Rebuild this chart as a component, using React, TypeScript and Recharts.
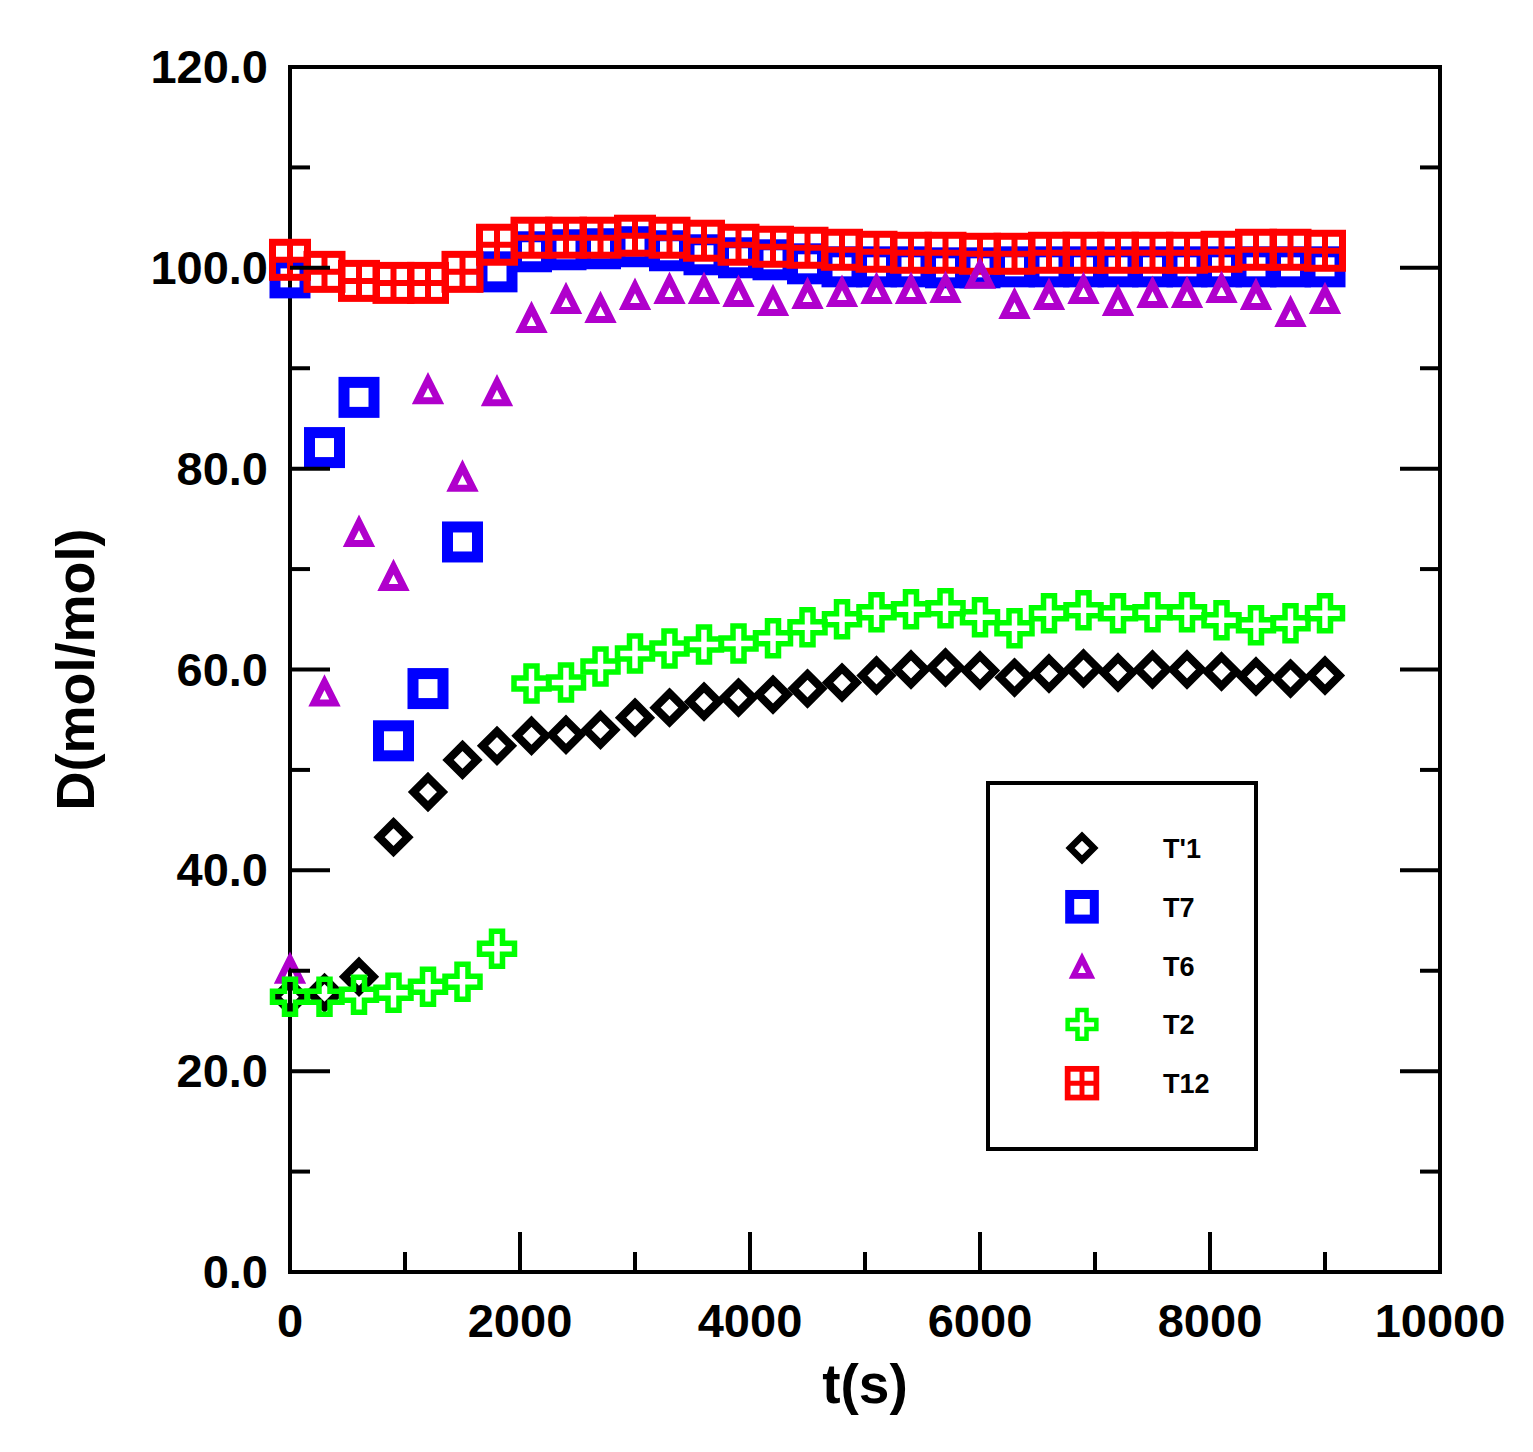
import { Legend, Scatter, ScatterChart, XAxis, YAxis } from "recharts";

const FONT = "'Liberation Sans', Arial, sans-serif";

// sample times (s)
const times = [
  0, 300, 600, 900, 1200, 1500, 1800, 2100, 2400, 2700, 3000, 3300, 3600, 3900, 4200, 4500,
  4800, 5100, 5400, 5700, 6000, 6300, 6600, 6900, 7200, 7500, 7800, 8100, 8400, 8700, 9000,
];

// D (mol/mol) per series
const t1Values = [
  27.4, 27.8, 29.4, 43.3, 47.8, 51.0, 52.4, 53.4, 53.5, 54.0, 55.2, 56.2, 56.8, 57.2, 57.5, 58.1,
  58.7, 59.4, 60.0, 60.2, 59.9, 59.2, 59.6, 60.1, 59.7, 60.0, 60.0, 59.8, 59.3, 59.1, 59.4,
];
const t7Values = [
  99.0, 82.1, 87.1, 52.9, 58.1, 72.7, 99.6, 101.6, 101.8, 101.9, 102.1, 101.7, 101.3, 101.0, 100.8,
  100.4, 100.1, 100.1, 100.1, 100.0, 100.0, 100.1, 100.1, 100.1, 100.1, 100.1, 100.1, 100.1, 100.1,
  100.1, 100.1,
];
const t6Values = [
  30.3, 57.9, 73.8, 69.4, 88.0, 79.3, 87.8, 95.1, 97.0, 96.1, 97.4, 98.0, 98.0, 97.7, 96.8, 97.5,
  97.7, 98.0, 98.0, 98.1, 99.5, 96.5, 97.4, 98.0, 96.8, 97.6, 97.6, 98.1, 97.4, 95.7, 97.0,
];
const t2Values = [
  27.4, 27.4, 27.6, 27.8, 28.4, 28.9, 32.2, 58.6, 58.7, 60.3, 61.6, 62.1, 62.5, 62.6, 63.1, 64.2,
  65.0, 65.7, 66.0, 66.1, 65.2, 64.1, 65.6, 65.9, 65.6, 65.7, 65.7, 64.9, 64.4, 64.6, 65.6,
];
const t12Values = [
  100.8, 99.6, 98.7, 98.5, 98.5, 99.6, 102.3, 103.0, 103.0, 103.0, 103.2, 103.0, 102.7, 102.3,
  102.1, 102.0, 101.8, 101.6, 101.5, 101.5, 101.4, 101.4, 101.5, 101.5, 101.5, 101.5, 101.5, 101.6,
  101.8, 101.8, 101.7,
];

const xTicks = [0, 1000, 2000, 3000, 4000, 5000, 6000, 7000, 8000, 9000, 10000];
const yTicks = [0, 10, 20, 30, 40, 50, 60, 70, 80, 90, 100, 110, 120];
const legendOrder = ["T'1", "T7", "T6", "T2", "T12"];

const toPoints = (values: number[]) => times.map((t, i) => ({ t, d: values[i] }));

type M = { cx: number; cy: number; s?: number };

function Diamond({ cx, cy, s = 1 }: M) {
  const r = 14.5 * s;
  return (
    <path
      d={`M${cx},${cy - r}L${cx + r},${cy}L${cx},${cy + r}L${cx - r},${cy}Z`}
      fill="none"
      stroke="#000"
      strokeWidth={8 * s}
    />
  );
}

function Square({ cx, cy, s = 1 }: M) {
  const h = 15 * s;
  return (
    <rect x={cx - h} y={cy - h} width={2 * h} height={2 * h} fill="none" stroke="#0000ff" strokeWidth={11 * s} />
  );
}

function Triangle({ cx, cy, s = 1 }: M) {
  const top = cy - 8.5 * s;
  const bot = cy + 12.5 * s;
  const w = 10.5 * s;
  return (
    <path
      d={`M${cx},${top}L${cx + w},${bot}L${cx - w},${bot}Z`}
      fill="none"
      stroke="#b000cc"
      strokeWidth={7 * s}
    />
  );
}

function Cross({ cx, cy, s = 1 }: M) {
  const a = 5.5 * s;
  const b = 17.5 * s;
  const pts = [
    [-a, -b], [a, -b], [a, -a], [b, -a], [b, a], [a, a],
    [a, b], [-a, b], [-a, a], [-b, a], [-b, -a], [-a, -a],
  ];
  const d = pts.map(([px, py], i) => `${i ? "L" : "M"}${cx + px},${cy + py}`).join("") + "Z";
  return <path d={d} fill="none" stroke="#00ff00" strokeWidth={5.5 * s} />;
}

function GridSquare({ cx, cy, s = 1 }: M) {
  const h = 17.5 * s;
  return (
    <g fill="none" stroke="#ff0000">
      <rect x={cx - h} y={cy - h} width={2 * h} height={2 * h} strokeWidth={7 * s} />
      <path d={`M${cx - h},${cy}H${cx + h}M${cx},${cy - h}V${cy + h}`} strokeWidth={6 * s} />
    </g>
  );
}

const markers: Record<string, (p: M) => JSX.Element> = {
  "T'1": Diamond,
  T7: Square,
  T6: Triangle,
  T2: Cross,
  T12: GridSquare,
};

const tickText = { fontFamily: FONT, fontWeight: 700, fill: "#000" };

function BottomTick({ x, y, payload }: any) {
  const major = payload.value % 2000 === 0;
  return (
    <g>
      <line x1={x} x2={x} y1={y} y2={y - (major ? 40 : 20)} stroke="#000" strokeWidth={4} />
      {major && (
        <text x={x} y={y + 65} textAnchor="middle" fontSize={47} {...tickText}>
          {payload.value}
        </text>
      )}
    </g>
  );
}

function TopTick({ x, y, payload }: any) {
  const major = payload.value % 2000 === 0;
  return <line x1={x} x2={x} y1={y} y2={y + (major ? 40 : 20)} stroke="#000" strokeWidth={4} />;
}

function LeftTick({ x, y, payload }: any) {
  const major = payload.value % 20 === 0;
  return (
    <g>
      <line x1={x} x2={x + (major ? 40 : 20)} y1={y} y2={y} stroke="#000" strokeWidth={4} />
      {major && (
        <text x={x - 22} y={y + 16} textAnchor="end" fontSize={47} {...tickText}>
          {payload.value.toFixed(1)}
        </text>
      )}
    </g>
  );
}

function RightTick({ x, y, payload }: any) {
  const major = payload.value % 20 === 0;
  return <line x1={x} x2={x - (major ? 40 : 20)} y1={y} y2={y} stroke="#000" strokeWidth={4} />;
}

function XTitle({ viewBox }: any) {
  return (
    <text x={viewBox.x + viewBox.width / 2} y={viewBox.y + 131} textAnchor="middle" fontSize={55} {...tickText}>
      t(s)
    </text>
  );
}

function YTitle({ viewBox }: any) {
  const cx = 67;
  const cy = viewBox.y + viewBox.height / 2;
  return (
    <text
      x={cx}
      y={cy}
      transform={`rotate(-90, ${cx}, ${cy})`}
      textAnchor="middle"
      dominantBaseline="central"
      fontSize={54}
      {...tickText}
    >
      D(mol/mol)
    </text>
  );
}

function LegendBox() {
  return (
    <div style={{ width: 272, height: 370, border: "4px solid #000", boxSizing: "border-box", background: "#fff" }}>
      <svg width={264} height={362}>
        {legendOrder.map((name, i) => {
          const Mk = markers[name];
          const cy = 63 + i * 58.8;
          return (
            <g key={name}>
              <Mk cx={92} cy={cy} s={0.82} />
              <text x={173} y={cy + 10} fontSize={27} {...tickText}>
                {name}
              </text>
            </g>
          );
        })}
      </svg>
    </div>
  );
}

const axisLine = { stroke: "#000", strokeWidth: 4, strokeLinecap: "square" as const };

export default function App() {
  const series = [
    { name: "T7", values: t7Values },
    { name: "T12", values: t12Values },
    { name: "T6", values: t6Values },
    { name: "T'1", values: t1Values },
    { name: "T2", values: t2Values },
  ];
  return (
    <ScatterChart width={1517} height={1436} margin={{ top: 29, right: 25, bottom: 0, left: 0 }}>
      <XAxis
        xAxisId="b"
        dataKey="t"
        type="number"
        domain={[0, 10000]}
        ticks={xTicks}
        interval={0}
        height={172}
        tickSize={0}
        tickMargin={0}
        tickLine={false}
        axisLine={axisLine}
        tick={<BottomTick />}
        label={<XTitle />}
      />
      <XAxis
        xAxisId="t"
        orientation="top"
        type="number"
        domain={[0, 10000]}
        allowDataOverflow
        ticks={xTicks}
        interval={0}
        height={30}
        tickSize={0}
        tickMargin={0}
        tickLine={false}
        axisLine={axisLine}
        tick={<TopTick />}
      />
      <YAxis
        yAxisId="l"
        dataKey="d"
        type="number"
        domain={[0, 120]}
        ticks={yTicks}
        interval={0}
        width={282}
        tickSize={0}
        tickMargin={0}
        tickLine={false}
        axisLine={axisLine}
        tick={<LeftTick />}
        label={<YTitle />}
      />
      <YAxis
        yAxisId="r"
        orientation="right"
        type="number"
        domain={[0, 120]}
        allowDataOverflow
        ticks={yTicks}
        interval={0}
        width={60}
        tickSize={0}
        tickMargin={0}
        tickLine={false}
        axisLine={axisLine}
        tick={<RightTick />}
      />
      {series.map((s) => {
        const Mk = markers[s.name];
        return (
          <Scatter
            key={s.name}
            name={s.name}
            xAxisId="b"
            yAxisId="l"
            data={toPoints(s.values)}
            isAnimationActive={false}
            shape={(p: any) => <Mk cx={p.cx} cy={p.cy} />}
          />
        );
      })}
      <Legend
        layout="vertical"
        align="center"
        verticalAlign="middle"
        content={<LegendBox />}
        wrapperStyle={{ left: 978, top: 773, width: 272, height: 370 }}
      />
    </ScatterChart>
  );
}
